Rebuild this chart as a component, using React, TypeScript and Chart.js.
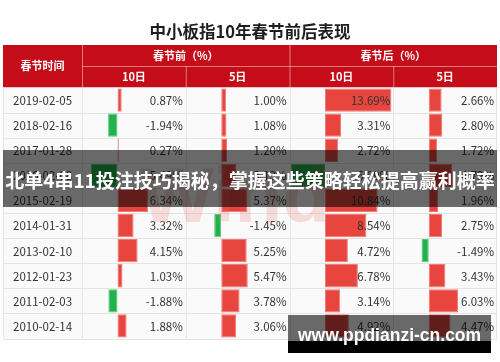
import React, { useEffect, useRef } from 'react';
import { Chart, registerables } from 'chart.js';

Chart.register(...registerables);

// ---------- data ----------
const title = '中小板指10年春节前后表现';
const dateHeader = '春节时间';
const groupLabels = ['春节前（%）', '春节后（%）'];
const subLabels = ['10日', '5日', '10日', '5日'];
const dates = [
  '2019-02-05', '2018-02-16', '2017-01-28', '2016-02-08', '2015-02-19',
  '2014-01-31', '2013-02-10', '2012-01-23', '2011-02-03', '2010-02-14',
];
const pre10 = [0.87, -1.94, 0.27, -5.49, 6.34, 3.32, 4.15, 1.03, -1.88, 1.88];
const pre5 = [1.0, 1.08, 1.2, 3.13, 5.37, -1.45, 5.25, 5.47, 3.78, 3.06];
const post10 = [13.69, 3.31, 2.72, -6.99, 10.84, 8.54, 4.72, 6.78, 3.14, 4.92];
const post5 = [2.66, 2.8, 1.72, 4.79, 1.96, 2.75, -1.49, 3.43, 6.03, 4.47];
const bannerText = '北单4串11投注技巧揭秘，掌握这些策略轻松提高赢利概率';
const siteText = 'www.ppdianzi-cn.com';
const watermarkText = 'Wind';

// ---------- layout ----------
const W = 500;
const H = 362;
const TL = 3;
const TR = 497;
const DATE_R = 82;
const HEAD_T = 45;
const HEAD_M = 66;
const BODY_T = 87.5;
const BODY_B = 338.5;
const COL_W = (TR - DATE_R) / 4;
const ZERO_OFF = 35.5;
const PX_PER_PCT = 4.85;

const RED = '#E8453F';
const RED_BORDER = '#F07A78';
const GREEN = '#22B24B';
const GREEN_BORDER = '#5CC97A';
const HEAD_RED = '#C50D19';

const series = [pre10, pre5, post10, post5];

function axisRange(i: number) {
  const z = DATE_R + i * COL_W + ZERO_OFF;
  return { min: -(z - TL) / PX_PER_PCT, max: (TR - z) / PX_PER_PCT };
}

const tablePlugin = {
  id: 'tablePlugin',
  beforeDatasetsDraw(chart: any) {
    const ctx = chart.ctx as CanvasRenderingContext2D;
    ctx.save();
    // page background
    ctx.fillStyle = '#FFFFFF';
    ctx.fillRect(0, 0, W, H);
    // title
    ctx.fillStyle = '#1E1E1E';
    ctx.font = 'bold 16.5px "Noto Sans CJK SC"';
    ctx.textAlign = 'center';
    ctx.textBaseline = 'middle';
    ctx.fillText(title, 250, 32);
    // header block
    ctx.fillStyle = HEAD_RED;
    ctx.fillRect(TL, HEAD_T, TR - TL, BODY_T - HEAD_T);
    ctx.strokeStyle = 'rgba(255,255,255,0.45)';
    ctx.lineWidth = 1;
    ctx.beginPath();
    ctx.moveTo(DATE_R + 0.5, HEAD_T);
    ctx.lineTo(DATE_R + 0.5, BODY_T);
    ctx.moveTo(DATE_R + 2 * COL_W + 0.5, HEAD_T);
    ctx.lineTo(DATE_R + 2 * COL_W + 0.5, BODY_T);
    ctx.moveTo(DATE_R + COL_W + 0.5, HEAD_M);
    ctx.lineTo(DATE_R + COL_W + 0.5, BODY_T);
    ctx.moveTo(DATE_R + 3 * COL_W + 0.5, HEAD_M);
    ctx.lineTo(DATE_R + 3 * COL_W + 0.5, BODY_T);
    ctx.moveTo(DATE_R, HEAD_M + 0.5);
    ctx.lineTo(TR, HEAD_M + 0.5);
    ctx.stroke();
    ctx.fillStyle = '#FFFFFF';
    ctx.font = 'bold 11px "Noto Sans CJK SC"';
    ctx.fillText(dateHeader, (TL + DATE_R) / 2, (HEAD_T + BODY_T) / 2);
    groupLabels.forEach((g, k) => {
      ctx.fillText(g, DATE_R + (k * 2 + 1) * COL_W, (HEAD_T + HEAD_M) / 2);
    });
    subLabels.forEach((s, k) => {
      ctx.fillText(s, DATE_R + (k + 0.5) * COL_W, (HEAD_M + BODY_T) / 2);
    });
    // body background & grid
    ctx.fillStyle = '#FAFAFA';
    ctx.fillRect(TL, BODY_T, TR - TL, BODY_B - BODY_T);
    ctx.strokeStyle = '#E4E4E4';
    ctx.beginPath();
    const pitch = (BODY_B - BODY_T) / dates.length;
    for (let r = 1; r <= dates.length; r++) {
      const y = Math.round(BODY_T + r * pitch) + 0.5;
      ctx.moveTo(TL, y);
      ctx.lineTo(TR, y);
    }
    for (let c = 0; c < 4; c++) {
      const x = Math.round(DATE_R + c * COL_W) + 0.5;
      ctx.moveTo(x, BODY_T);
      ctx.lineTo(x, BODY_B);
    }
    ctx.moveTo(TL + 0.5, BODY_T);
    ctx.lineTo(TL + 0.5, BODY_B);
    ctx.moveTo(TR - 0.5, BODY_T);
    ctx.lineTo(TR - 0.5, BODY_B);
    ctx.stroke();
    ctx.restore();
  },
  afterDatasetsDraw(chart: any) {
    const ctx = chart.ctx as CanvasRenderingContext2D;
    const yScale = chart.scales.y;
    ctx.save();
    ctx.textBaseline = 'middle';
    ctx.fillStyle = '#333333';
    ctx.font = '11.5px "Noto Sans CJK SC"';
    dates.forEach((d, r) => {
      const y = yScale.getPixelForValue(r) + 0.5;
      ctx.textAlign = 'left';
      ctx.fillText(d, 13, y);
      ctx.textAlign = 'right';
      series.forEach((s, c) => {
        ctx.fillText(s[r].toFixed(2) + '%', DATE_R + (c + 1) * COL_W - 3, y);
      });
    });
    // watermark
    ctx.fillStyle = 'rgba(232,110,110,0.22)';
    ctx.font = 'bold 78px "Liberation Sans"';
    ctx.textAlign = 'left';
    ctx.textBaseline = 'alphabetic';
    ctx.fillText(watermarkText, 140, 222);
    // banner
    ctx.fillStyle = 'rgba(0,0,0,0.58)';
    ctx.fillRect(TL, 150, TR - TL, 57);
    ctx.fillStyle = '#FFFFFF';
    ctx.font = 'bold 19px "Noto Sans CJK SC"';
    ctx.textAlign = 'center';
    ctx.textBaseline = 'middle';
    ctx.fillText(bannerText, 250, 181);
    // site box
    ctx.fillStyle = 'rgba(0,0,0,0.58)';
    ctx.fillRect(288, 315, 203, 26);
    ctx.fillStyle = '#000000';
    ctx.fillRect(288, 341, 203, 12);
    ctx.fillStyle = '#FFFFFF';
    ctx.font = 'bold 17.5px "Liberation Sans"';
    ctx.textAlign = 'left';
    ctx.textBaseline = 'alphabetic';
    ctx.fillText(siteText, 298, 341);
    ctx.restore();
  },
};

export default function App() {
  const ref = useRef<HTMLCanvasElement | null>(null);
  useEffect(() => {
    if (!ref.current) return;
    const scales: any = {
      y: {
        type: 'category',
        labels: dates,
        display: false,
        offset: true,
        grid: { display: false },
      },
    };
    series.forEach((_, i) => {
      const rg = axisRange(i);
      scales['x' + i] = {
        type: 'linear',
        axis: 'x',
        position: 'bottom',
        display: false,
        min: rg.min,
        max: rg.max,
        grid: { display: false },
      };
    });
    const chart = new Chart(ref.current, {
      type: 'bar',
      data: {
        labels: dates,
        datasets: series.map((s, i) => ({
          data: s,
          xAxisID: 'x' + i,
          yAxisID: 'y',
          grouped: false,
          barPercentage: 0.93,
          categoryPercentage: 1,
          borderWidth: 1,
          borderSkipped: false,
          backgroundColor: (c: any) => (c.raw < 0 ? GREEN : RED),
          borderColor: (c: any) => (c.raw < 0 ? GREEN_BORDER : RED_BORDER),
        })),
      },
      options: {
        indexAxis: 'y',
        animation: false,
        responsive: false,
        devicePixelRatio: 1,
        layout: { padding: { left: TL, right: W - TR, top: BODY_T, bottom: H - BODY_B } },
        plugins: { legend: { display: false }, tooltip: { enabled: false } },
        scales,
      } as any,
      plugins: [tablePlugin],
    });
    return () => chart.destroy();
  }, []);
  return (
    <div style={{ position: 'absolute', left: 0, top: 0, width: W, height: H, background: '#fff' }}>
      <canvas ref={ref} width={W} height={H} style={{ width: W, height: H, display: 'block' }} />
    </div>
  );
}
